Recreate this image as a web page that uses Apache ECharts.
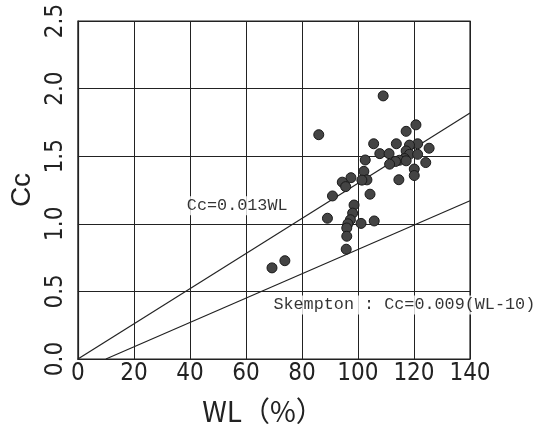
<!DOCTYPE html>
<html>
<head>
<meta charset="utf-8">
<script src="https://cdn.jsdelivr.net/npm/echarts@6/dist/echarts.min.js"></script>
<style>html,body{margin:0;padding:0;background:#fff;}#c{width:543px;height:430px;}</style>
</head>
<body>
<div id="c"></div>
<script>
// Observed data: liquid limit WL (%) and compression index Cc
var wl = [109.0, 86.0, 120.7, 117.2, 105.6, 113.7, 125.4, 121.3, 118.4, 107.8,
          111.1, 117.2, 118.4, 121.3, 116.6, 114.8, 113.4, 111.3, 117.2, 124.2,
          102.6, 120.1, 120.1, 102.1, 103.2, 101.4, 114.6, 97.5, 94.4, 95.6,
          90.9, 104.3, 98.6, 98.1, 97.3, 96.4, 101.1, 105.8, 89.1, 96.0,
          96.0, 95.8, 73.9, 69.3];
var cc = [1.946, 1.659, 1.732, 1.684, 1.592, 1.592, 1.559, 1.592, 1.582, 1.519,
          1.519, 1.539, 1.514, 1.514, 1.483, 1.470, 1.461, 1.441, 1.466, 1.453,
          1.472, 1.405, 1.357, 1.388, 1.325, 1.323, 1.326, 1.341, 1.308, 1.275,
          1.206, 1.219, 1.139, 1.079, 1.030, 1.000, 1.003, 1.021, 1.041, 0.969,
          0.908, 0.812, 0.727, 0.674];

// Relation lines (end points in data space)
var lineA_wl = [0, 140];
var lineA_cc = [0, 1.82];        // Cc = 0.013 WL
var lineB_wl = [10, 140];
var lineB_cc = [0, 1.17];        // Cc = 0.009 (WL-10)

// Annotation texts and their anchor (data coords)
var noteText = ['Cc=0.013WL', 'Skempton : Cc=0.009(WL-10)'];
var noteWL = [38.9, 69.8];
var noteCC = [1.134, 0.40];

// Axis ticks
var xTicks = [0, 20, 40, 60, 80, 100, 120, 140];
var yTicks = [0.0, 0.5, 1.0, 1.5, 2.0, 2.5];

var pts = wl.map(function (v, i) { return [v, cc[i]]; });
var notes = noteText.map(function (t, i) { return { name: t, value: [noteWL[i], noteCC[i]] }; });

var tickFont = "'Liberation Sans Narrow','DejaVu Sans Condensed','Liberation Sans',sans-serif";
var monoFont = "'Liberation Mono','DejaVu Sans Mono',monospace";

var chart = echarts.init(document.getElementById('c'), null, { renderer: 'canvas' });
chart.setOption({
  backgroundColor: '#ffffff',
  animation: false,
  grid: { left: 71, top: 21, width: 399, height: 344, show: true, borderColor: '#222', borderWidth: 1.2, containLabel: false },
  xAxis: {
    type: 'value', min: xTicks[0], max: xTicks[xTicks.length - 1], interval: 20,
    name: 'WL（%）', nameLocation: 'middle', nameGap: 38,
    nameTextStyle: { fontFamily: "'Noto Sans CJK JP','Liberation Sans',sans-serif", fontSize: 28, color: '#222', padding: [0, 22, 0, 0] },
    axisLine: { show: true, lineStyle: { color: '#222', width: 1.2 } },
    axisTick: { show: false },
    axisLabel: { fontFamily: tickFont, fontSize: 24, color: '#222', margin: 3 },
    splitLine: { show: true, lineStyle: { color: '#222', width: 1 } }
  },
  yAxis: {
    type: 'value', min: yTicks[0], max: yTicks[yTicks.length - 1], interval: 0.5,
    name: 'Cc', nameLocation: 'middle', nameGap: 40, nameRotate: 90,
    nameTextStyle: { fontFamily: "'Liberation Sans','DejaVu Sans',sans-serif", fontSize: 28, color: '#222' },
    axisLine: { show: true, lineStyle: { color: '#222', width: 1.2 } },
    axisTick: { show: false },
    axisLabel: { fontFamily: tickFont, fontSize: 24, color: '#222', margin: 10, rotate: 90,
      formatter: function (v) { return v.toFixed(1); } },
    splitLine: { show: true, lineStyle: { color: '#222', width: 1 } }
  },
  series: [
    { type: 'line', data: [[lineA_wl[0], lineA_cc[0]], [lineA_wl[1], lineA_cc[1]]], symbol: 'none',
      lineStyle: { color: '#222', width: 1.2 }, silent: true, z: 3 },
    { type: 'line', data: [[lineB_wl[0], lineB_cc[0]], [lineB_wl[1], lineB_cc[1]]], symbol: 'none',
      lineStyle: { color: '#222', width: 1.2 }, silent: true, z: 3 },
    { type: 'scatter', data: pts, symbol: 'circle', symbolSize: 10,
      itemStyle: { color: '#444', borderColor: '#1a1a1a', borderWidth: 1, opacity: 1 }, z: 4 },
    { type: 'scatter', data: notes, symbolSize: 0, silent: true, z: 5,
      label: { show: true, position: 'right', distance: 0, formatter: '{b}',
        fontFamily: monoFont, fontSize: 16.8, color: '#000', backgroundColor: '#fff', padding: [1, 0, 1, 0] } }
  ]
});
</script>
</body>
</html>
